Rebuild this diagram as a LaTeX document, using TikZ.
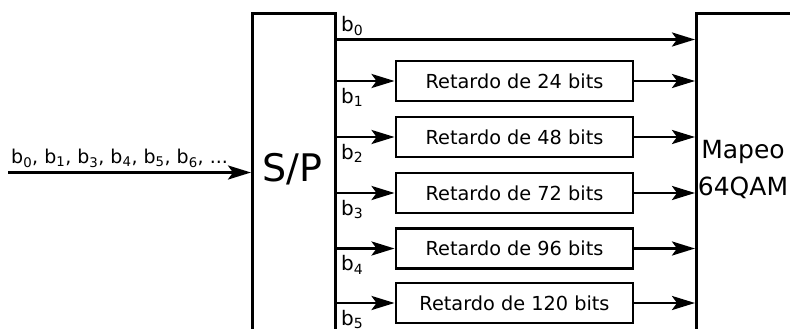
\documentclass[tikz,border=0pt]{standalone}
\usepackage{fontspec}
\setmainfont{DejaVu Sans}
\usetikzlibrary{arrows.meta}
\tikzset{thickline/.style={line width=2.9pt}}
\begin{document}
\begin{tikzpicture}[x=1pt,y=-1pt,
  arr/.style={thickline,-{Stealth[length=23pt,width=14pt,inset=5pt]}},
  boxline/.style={draw,thickline,rectangle,inner sep=0pt},
  delaybox/.style={boxline,minimum width=237pt,minimum height=40pt,font=\fontsize{19.3}{21}\selectfont},
  lbl/.style={inner sep=0pt,font=\fontsize{20}{21}\selectfont}]
\useasboundingbox (0,0) rectangle (790,329);
\clip (0,0) rectangle (790,329);
\node[boxline,anchor=north west,minimum width=83pt,minimum height=360pt] (sp) at (251,12) {};
\node[font=\fontsize{38}{40}\selectfont,inner sep=0pt] (sptext) at (292,169) {S/P};
\node[boxline,anchor=north west,minimum width=150pt,minimum height=360pt] (map) at (695,12) {};
\node[font=\fontsize{25}{37}\selectfont,align=center,inner sep=0pt] (maptext) at (743,169) {Mapeo\\64QAM};
\node[delaybox] (d1) at (514.5,81) {Retardo de 24 bits};
\node[delaybox] (d2) at (514.5,137) {Retardo de 48 bits};
\node[delaybox] (d3) at (514.5,193) {Retardo de 72 bits};
\node[delaybox] (d4) at (514.5,248.5) {Retardo de 96 bits};
\node[delaybox] (d5) at (514.5,303) {Retardo de 120 bits};
\coordinate (b0y) at (0,39.5);
\draw[arr] (sp.east |- b0y) -- (map.west |- b0y);
\foreach \i in {1,...,5}{
  \draw[arr] (d\i.west -| sp.east) -- (d\i.west);
  \draw[arr] (d\i.east) -- (d\i.east -| map.west);
  \node[lbl,anchor=north west] (bl\i) at ([xshift=4pt,yshift=-7pt]d\i.west -| sp.east) {b\textsubscript{\i}};
}
\node[lbl,anchor=south west] (bl0) at ([xshift=4pt,yshift=4pt]sp.east |- b0y) {b\textsubscript{0}};
\coordinate (in) at (8,172.5);
\draw[arr] (in) -- (in -| sp.west);
\node[lbl,anchor=south west,font=\fontsize{19}{21}\selectfont] (inlbl) at ([xshift=3pt,yshift=5pt]in) {b\textsubscript{0}, b\textsubscript{1}, b\textsubscript{3}, b\textsubscript{4}, b\textsubscript{5}, b\textsubscript{6}, ...};
\end{tikzpicture}
\end{document}
